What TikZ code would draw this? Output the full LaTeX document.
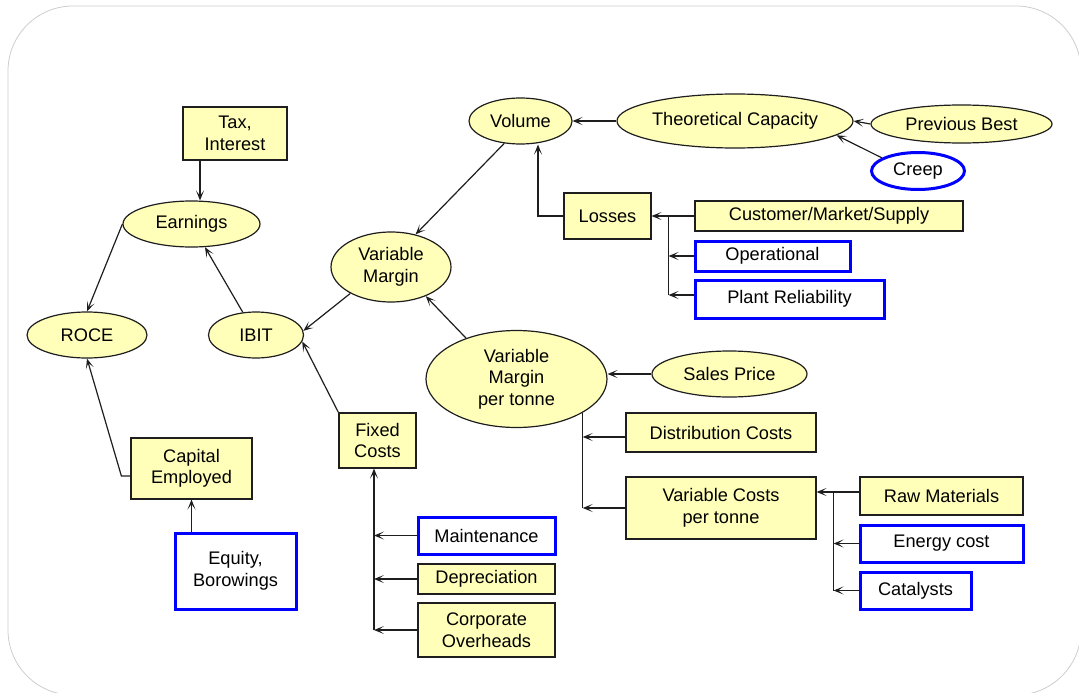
\documentclass[tikz,border=0pt]{standalone}
\usepackage{fontspec}
\setmainfont{Liberation Sans}
\usetikzlibrary{shapes.geometric,arrows.meta}
\definecolor{paleyel}{RGB}{255,255,185}
\definecolor{edge}{RGB}{30,30,30}
\begin{document}
\begin{tikzpicture}[x=1pt,y=-1pt,
  every node/.style={font=\fontsize{18.2}{21.5}\selectfont, align=center, inner sep=0pt},
  yell/.style={ellipse, draw=edge, line width=1.2pt, fill=paleyel},
  ybox/.style={rectangle, draw=edge, line width=1.2pt, fill=paleyel},
  bbox/.style={rectangle, draw=blue, line width=3pt, fill=white},
  bell/.style={ellipse, draw=blue, line width=3pt, fill=white},
  arr/.style={draw=edge, line width=1.2pt, -{Stealth[length=10pt,width=8pt,inset=5.5pt]}},
  ln/.style={draw=edge, line width=1.2pt}]
\useasboundingbox (0,0) rectangle (1079,693);
% frame
\draw[black!20, line width=0.8pt, rounded corners=65pt] (8,6) rectangle (1081,695);

% left part
\node[ybox, minimum width=104, minimum height=53] (tax) at (235,133.5) {Tax,\\Interest};
\node[yell, minimum width=137, minimum height=46] (earn) at (191.5,224) {Earnings};
\node[yell, minimum width=120, minimum height=46] (roce) at (87,335) {ROCE};
\node[yell, minimum width=95, minimum height=46] (ibit) at (256,335) {IBIT};
\node[ybox, minimum width=121, minimum height=61] (ce) at (191.5,468.5) {Capital\\Employed};
\node[bbox, minimum width=121, minimum height=76] (eq) at (235.5,571) {Equity,\\Borowings};

% fixed costs branch
\node[ybox, minimum width=77, minimum height=55] (fc) at (377.5,440.5) {Fixed\\Costs};
\node[bbox, minimum width=137, minimum height=37] (mt) at (486.5,535.5) {Maintenance};
\node[ybox, minimum width=137, minimum height=30] (dp) at (486.5,579) {Depreciation};
\node[ybox, minimum width=137, minimum height=54] (co) at (486.5,630) {Corporate\\Overheads};

% margin and volume
\node[yell, minimum width=120, minimum height=70] (vm) at (391,267) {Variable\\Margin};
\node[yell, minimum width=103, minimum height=46] (vol) at (520.5,121) {Volume};
\node[yell, minimum width=236, minimum height=54] (tc) at (735,121) {Theoretical Capacity};
\node[yell, minimum width=181, minimum height=38] (pb) at (961.5,124) {Previous Best};
\node[bell, minimum width=93, minimum height=37] (creep) at (918,171) {Creep};
\node[ybox, minimum width=87, minimum height=46] (loss) at (607.5,216) {Losses};
\node[ybox, minimum width=268, minimum height=30] (cms) at (829,216) {Customer/Market/Supply};
\node[bbox, minimum width=155, minimum height=30] (op) at (772.5,256) {Operational};
\node[bbox, minimum width=189, minimum height=38] (pr) at (789.5,299) {Plant Reliability};

% per tonne branch
\node[yell, minimum width=181, minimum height=97] (vmpt) at (516.5,379) {Variable\\Margin\\per tonne};
\node[yell, minimum width=155, minimum height=46] (sp) at (729.5,374) {Sales Price};
\node[ybox, minimum width=190, minimum height=39] (dc) at (721,432.5) {Distribution Costs};
\node[ybox, minimum width=190, minimum height=62] (vc) at (721,508) {Variable Costs\\per tonne};
\node[ybox, minimum width=163, minimum height=38] (rm) at (941.5,496) {Raw Materials};
\node[bbox, minimum width=163, minimum height=37] (en) at (941.5,543.5) {Energy cost};
\node[bbox, minimum width=111, minimum height=37] (cat) at (915.5,590.5) {Catalysts};

% trunk points
\coordinate (lt) at ([xshift=17pt]loss.east);
\coordinate (vt) at (vmpt.333);
\coordinate (ct) at ([xshift=17pt]vc.east);
\coordinate (ft) at ([xshift=-3.5pt]fc.south);
\coordinate (prin) at ([yshift=4pt]pr.west);
\coordinate (dcin) at ([yshift=-4.5pt]dc.west);
\coordinate (rmin) at ([yshift=4pt]rm.west);

% connectors: left part
\draw[arr] ([xshift=-35pt]tax.south) -- ([xshift=-35pt]tax.south |- earn.north);
\draw[arr] (earn.west) -- (roce.north);
\draw[arr] (ibit) -- (earn);
\draw[arr] ([yshift=-7.5pt]ce.west) -- ++(-9,0) -- (roce.south);
\draw[arr] (eq.north -| ce.south) -- (ce.south);
\draw[arr] (vm.213) -- (ibit.5);
\draw[arr] (fc.north west) -- (ibit.-8);

% fixed costs trunk
\draw[arr] (co.west -| ft) -- (ft);
\draw[arr] (mt.west) -- (mt.west -| ft);
\draw[arr] (dp.west) -- (dp.west -| ft);
\draw[arr] (co.west) -- (co.west -| ft);

% volume part
\draw[arr] (vol.234) -- (vm.53);
\draw[arr] (tc.west) -- (vol.east);
\draw[arr] (pb.west) -- (tc.east);
\draw[arr] (creep.160) -- (tc.352);
\draw[arr] (loss.west) -| ([xshift=17.5pt]vol.south);
\draw[arr] (cms.west) -- (loss.east);
\draw[ln] (lt) -- (lt |- prin);
\draw[arr] (op.west) -- (op.west -| lt);
\draw[arr] (prin) -- (prin -| lt);

% per tonne part
\draw[arr] (vmpt.141) -- (vm.320);
\draw[arr] (sp.west) -- (sp.west -| vmpt.east);
\draw[ln] (vt) -- (vt |- vc.west);
\draw[arr] (dcin) -- (dcin -| vt);
\draw[arr] (vc.west) -- (vc.west -| vt);
\draw[arr] (rmin) -- (rmin -| vc.east);
\draw[ln] (rmin -| ct) -- (cat.west -| ct);
\draw[arr] (en.west) -- (en.west -| ct);
\draw[arr] (cat.west) -- (cat.west -| ct);
\end{tikzpicture}
\end{document}
